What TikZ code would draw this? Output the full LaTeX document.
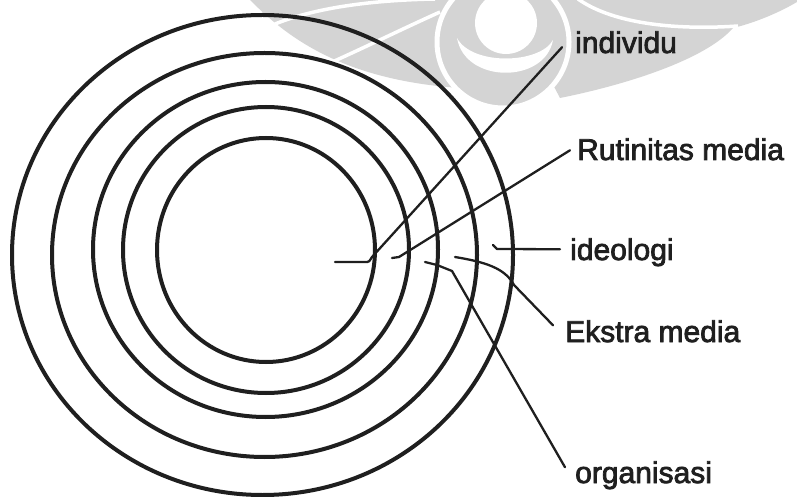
\documentclass[tikz,border=0pt]{standalone}
\usepackage{fontspec}
\setmainfont{Liberation Sans}
\newfontfamily\lblfont[FakeBold=2.5]{Liberation Sans}
\begin{document}
\begin{tikzpicture}[x=1bp,y=-1bp,
  ring/.style={line width=4bp, draw=black!88},
  lead/.style={line width=2.3bp, draw=black!88, line join=round, line cap=round},
  lbl/.style={anchor=base west, inner sep=0pt, font=\lblfont\fontsize{30bp}{36bp}\selectfont, text=black!88},
  wm/.style={fill=black!17, draw=none},
  wmcut/.style={draw=white, line width=3.5bp}]
\useasboundingbox (0,0) rectangle (797,497);
% faint watermark
\fill[wm] (250,0) .. controls (285,35) and (340,80) .. (460,88) -- (475,60) -- (475,0) -- cycle;
\fill[wm] (545,0) -- (797,0) -- (797,2) .. controls (775,15) and (750,24) .. (733,28)
  .. controls (705,60) and (625,85) .. (560,98) -- (540,60) -- cycle;
\draw[wmcut] (275,24) .. controls (320,6) and (380,0) .. (435,-1);
\draw[wmcut] (330,63) .. controls (370,45) and (400,30) .. (440,12);
\draw[wmcut] (578,-1) .. controls (615,25) and (680,30) .. (738,26);
\filldraw[fill=black!17, draw=white, line width=5bp] (503,42) circle (66);
\fill[white] (506,23) circle (31);
\fill[white] (457,38) .. controls (465,84) and (545,84) .. (553,40) .. controls (540,64) and (472,66) .. cycle;
% rings
\draw[ring] (262.5,255) ellipse [x radius=250.5, y radius=240];
\draw[ring] (264.5,255) ellipse [x radius=212.5, y radius=202];
\draw[ring] (265.5,249.5) ellipse [x radius=172.5, y radius=167.5];
\draw[ring] (266,250) ellipse [x radius=143, y radius=143];
\draw[ring] (266,250) ellipse [x radius=109, y radius=112];
% labels
\node[lbl] (ind) at (575,53) {individu};
\node[lbl] (rut) at (577,160) {Rutinitas media};
\node[lbl] (ide) at (570,260) {ideologi};
\node[lbl] (eks) at (565,342) {Ekstra media};
\node[lbl] (org) at (575,483) {organisasi};
% leader start points
\coordinate (sInd) at (335,262);
\coordinate (sRut) at (392,258);
\coordinate (sIde) at (493,245);
\coordinate (sEks) at (455,257);
\coordinate (sOrg) at (425,262);
% leaders
\draw[lead] (sInd) -- (365,262) .. controls (369,262) .. (372,257) -- ([shift={(-13,5)}]ind.west);
\draw[lead] (sRut) -- (399,257) -- ([shift={(-7,1)}]rut.west);
\draw[lead] (sIde) -- (497,249) -- ([shift={(-10,-3)}]ide.west);
\draw[lead] (sEks) .. controls (485,262) and (505,268) .. (514,285) -- ([shift={(-12,-6)}]eks.west);
\draw[lead] (sOrg) -- (437,265) -- (452,271) -- ([shift={(-10,-8)}]org.west);
\end{tikzpicture}
\end{document}
